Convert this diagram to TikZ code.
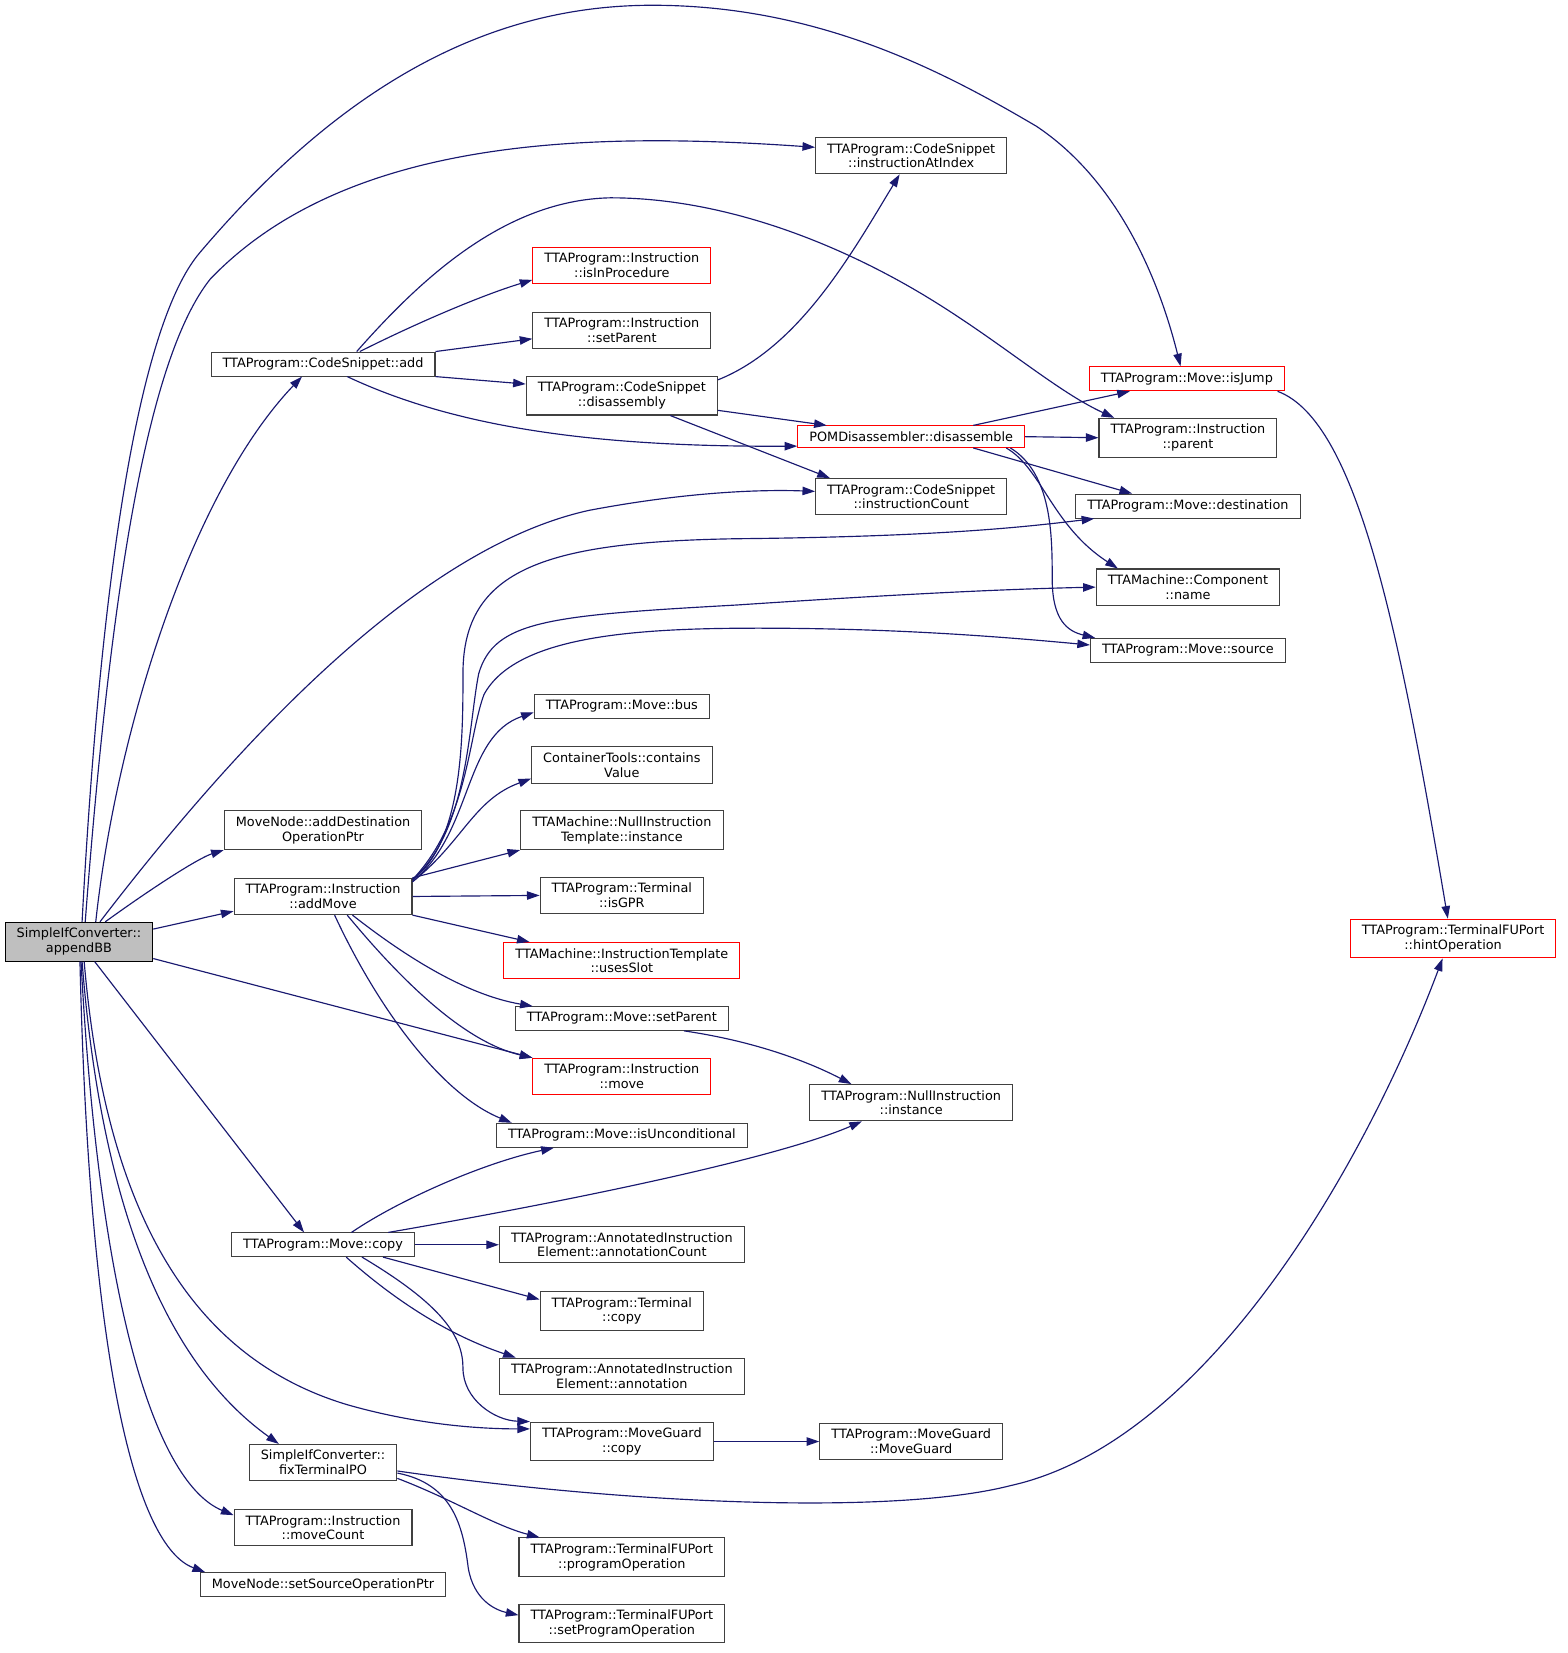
\documentclass[tikz,border=0pt]{standalone}
\usepackage{fontspec}
\setmainfont{DejaVu Sans}
\usetikzlibrary{arrows.meta}
\definecolor{calledge}{HTML}{191970}
\definecolor{boxline}{HTML}{404040}
\definecolor{curfill}{HTML}{BFBFBF}
\tikzset{
  fnbox/.style={draw=boxline, line width=1pt, fill=white, align=center, inner xsep=11pt, inner ysep=5.5pt, font=\fontsize{12.2}{14}\selectfont},
  fnred/.style={fnbox, draw=red},
  fncur/.style={fnbox, fill=curfill, draw=black},
  calls/.style={draw=calledge, line width=1.1pt, -{Triangle[length=12pt,width=8pt]}}
}

\begin{document}
\begin{tikzpicture}[x=1pt,y=-1pt]
	\newcommand\colB{307}
	\newcommand\colC{591}
	\newcommand\colD{866}
	\newcommand\colE{1129}
	\newcommand\colF{1381}

	\useasboundingbox (0,0) rectangle (1490,1571);

	\node[fncur] (ab) at (75,895) {SimpleIfConverter::\\appendBB};

	\node[fnbox] (add) at (\colB,346) {TTAProgram::CodeSnippet::add};
	\node[fnbox] (ado) at (\colB,789) {MoveNode::addDestination\\OperationPtr};
	\node[fnbox] (am) at (\colB,852) {TTAProgram::Instruction\\::addMove};
	\node[fnbox] (mc) at (\colB,1183) {TTAProgram::Move::copy};
	\node[fnbox] (ft) at (\colB,1390) {SimpleIfConverter::\\fixTerminalPO};
	\node[fnbox] (mvc) at (\colB,1452) {TTAProgram::Instruction\\::moveCount};
	\node[fnbox] (sso) at (\colB,1506) {MoveNode::setSourceOperationPtr};

	\node[fnred] (iip) at (\colC,252) {TTAProgram::Instruction\\::isInProcedure};
	\node[fnbox] (spi) at (\colC,314) {TTAProgram::Instruction\\::setParent};
	\node[fnbox] (dsy) at (\colC,376) {TTAProgram::CodeSnippet\\::disassembly};
	\node[fnbox] (bus) at (\colC,671) {TTAProgram::Move::bus};
	\node[fnbox] (cv) at (\colC,727) {ContainerTools::contains\\Value};
	\node[fnbox] (nit) at (\colC,789) {TTAMachine::NullInstruction\\Template::instance};
	\node[fnbox] (gpr) at (\colC,851) {TTAProgram::Terminal\\::isGPR};
	\node[fnred] (us) at (\colC,913) {TTAMachine::InstructionTemplate\\::usesSlot};
	\node[fnbox] (msp) at (\colC,968) {TTAProgram::Move::setParent};
	\node[fnred] (im) at (\colC,1023) {TTAProgram::Instruction\\::move};
	\node[fnbox] (iu) at (\colC,1079) {TTAProgram::Move::isUnconditional};
	\node[fnbox] (ac) at (\colC,1183) {TTAProgram::AnnotatedInstruction\\Element::annotationCount};
	\node[fnbox] (tc) at (\colC,1246) {TTAProgram::Terminal\\::copy};
	\node[fnbox] (an) at (\colC,1308) {TTAProgram::AnnotatedInstruction\\Element::annotation};
	\node[fnbox] (mgc) at (\colC,1370) {TTAProgram::MoveGuard\\::copy};
	\node[fnbox] (po) at (\colC,1480) {TTAProgram::TerminalFUPort\\::programOperation};
	\node[fnbox] (spo) at (\colC,1543) {TTAProgram::TerminalFUPort\\::setProgramOperation};

	\node[fnbox] (iai) at (\colD,148) {TTAProgram::CodeSnippet\\::instructionAtIndex};
	\node[fnred] (dis) at (\colD,415) {POMDisassembler::disassemble};
	\node[fnbox] (ic) at (\colD,472) {TTAProgram::CodeSnippet\\::instructionCount};
	\node[fnbox] (nis) at (\colD,1048) {TTAProgram::NullInstruction\\::instance};
	\node[fnbox] (mgm) at (\colD,1370) {TTAProgram::MoveGuard\\::MoveGuard};

	\node[fnred] (ij) at (1128,360) {TTAProgram::Move::isJump};
	\node[fnbox] (par) at (\colE,416) {TTAProgram::Instruction\\::parent};
	\node[fnbox] (dst) at (\colE,481) {TTAProgram::Move::destination};
	\node[fnbox] (cn) at (\colE,558) {TTAMachine::Component\\::name};
	\node[fnbox] (src) at (\colE,618) {TTAProgram::Move::source};
	\node[fnred] (ho) at (\colF,892) {TTAProgram::TerminalFUPort\\::hintOperation};

	% appendBB
	\draw[calls] ([xshift=3pt]ab.north) .. controls (95,560) and (130,310) .. (190,240) .. controls (330,75) and (470,5) .. (620,5) .. controls (780,5) and (900,70) .. (985,120) .. controls (1060,170) and (1100,260) .. ([xshift=-6pt]ij.north);
	\draw[calls] ([xshift=6pt]ab.north) .. controls (105,560) and (140,340) .. (200,265) .. controls (330,130) and (560,125) .. ([yshift=8pt]iai.west);
	\draw[calls] ([xshift=16pt]ab.north) .. controls (110,700) and (180,470) .. ([xshift=-20pt]add.south);
	\draw[calls] ([xshift=20pt]ab.north) .. controls (230,700) and (400,520) .. (560,485) .. controls (650,468) and (720,465) .. ([yshift=5pt]ic.west);
	\draw[calls] ([xshift=25pt]ab.north) .. controls (150,840) and (190,815) .. (ado.south west);
	\draw[calls] ([yshift=12pt]ab.east) -- ([yshift=-14pt]am.west);
	\draw[calls] ([yshift=-16pt]ab.east) -- (im.north west);
	\draw[calls] ([xshift=15pt]ab.south) -- ([xshift=-18pt]mc.north);
	\draw[calls] ([xshift=5pt]ab.south) .. controls (100,1150) and (180,1290) .. (330,1335) .. controls (400,1355) and (460,1358) .. ([yshift=12pt]mgc.west);
	\draw[calls] ([xshift=3pt]ab.south) .. controls (95,1130) and (150,1290) .. ([xshift=-42pt]ft.north);
	\draw[calls] ([xshift=2pt]ab.south) .. controls (95,1250) and (150,1410) .. ([yshift=12pt]mvc.west);
	\draw[calls] ([xshift=1pt]ab.south) .. controls (85,1300) and (130,1470) .. ([xshift=5pt]sso.north west);

	% CodeSnippet::add
	\draw[calls] ([xshift=32pt]add.north) .. controls (400,265) and (480,190) .. (580,188) .. controls (680,188) and (780,225) .. (860,270) .. controls (940,315) and (1000,370) .. ([xshift=15pt]par.north west);
	\draw[calls] ([xshift=35pt]add.north) .. controls (400,305) and (460,280) .. ([yshift=-14pt]iip.west);
	\draw[calls] (add.north east) -- ([yshift=-8pt]spi.west);
	\draw[calls] (add.south east) -- ([yshift=11pt]dsy.west);
	\draw[calls] ([xshift=23pt]add.south) .. controls (430,405) and (560,425) .. ([yshift=-9pt]dis.west);

	% disassembly, disassemble, isJump
	\draw[calls] ([yshift=15pt]dsy.east) .. controls (760,330) and (810,240) .. ([xshift=-11pt]iai.south);
	\draw[calls] ([yshift=-14pt]dsy.east) -- ([xshift=28pt]dis.north west);
	\draw[calls] ([xshift=46pt]dsy.south) -- ([xshift=14pt]ic.north west);
	\draw[calls] ([xshift=59pt]dis.north) -- ([xshift=39pt]ij.south west);
	\draw[calls] (dis.east) -- (par.west);
	\draw[calls] ([xshift=59pt]dis.south) -- ([xshift=54pt]dst.north west);
	\draw[calls] ([xshift=-18pt]dis.south east) .. controls (990,445) and (1000,500) .. ([xshift=21pt]cn.north west);
	\draw[calls] ([xshift=-14pt]dis.south east) .. controls (1000,450) and (1000,510) .. (1000,550) .. controls (1000,590) and (1015,600) .. ([xshift=5pt]src.north west);
	\draw[calls] ([xshift=-7pt]ij.south east) .. controls (1290,400) and (1330,600) .. ([xshift=-5pt]ho.north);

	% addMove
	\draw[calls] ([yshift=16pt]am.east) .. controls (440,800) and (440,700) .. (440,640) .. controls (440,540) and (520,515) .. (700,512) .. controls (900,510) and (980,500) .. ([xshift=18pt]dst.south west);
	\draw[calls] ([yshift=16pt]am.east) .. controls (445,790) and (445,690) .. (455,640) .. controls (470,590) and (520,585) .. (700,575) .. controls (850,565) and (950,560) .. (cn.west);
	\draw[calls] ([yshift=16pt]am.east) .. controls (445,780) and (445,700) .. (460,660) .. controls (490,605) and (600,597) .. (720,597) .. controls (850,597) and (950,605) .. ([yshift=5pt]src.west);
	\draw[calls] ([yshift=14pt]am.east) .. controls (450,790) and (440,700) .. ([yshift=-6pt]bus.west);
	\draw[calls] ([yshift=14pt]am.east) .. controls (440,800) and (450,760) .. ([yshift=-13pt]cv.west);
	\draw[calls] (am.north east) -- (nit.south west);
	\draw[calls] (am.east) -- (gpr.west);
	\draw[calls] (am.south east) -- ([xshift=25pt]us.north west);
	\draw[calls] ([xshift=28pt]am.south) .. controls (380,905) and (440,945) .. ([xshift=17pt]msp.north west);
	\draw[calls] ([xshift=23pt]am.south) .. controls (380,930) and (440,990) .. (im.north west);
	\draw[calls] ([xshift=11pt]am.south) .. controls (360,960) and (420,1040) .. ([xshift=15pt]iu.north west);
	\draw[calls] ([xshift=59pt]msp.south) .. controls (720,990) and (770,1010) .. ([xshift=40pt]nis.north west);

	% Move::copy
	\draw[calls] ([xshift=27pt]mc.north) .. controls (380,1140) and (460,1105) .. ([xshift=55pt]iu.south west);
	\draw[calls] ([xshift=62pt]mc.north) .. controls (550,1140) and (740,1100) .. ([xshift=50pt]nis.south west);
	\draw[calls] (mc.east) -- (ac.west);
	\draw[calls] ([xshift=57pt]mc.south) -- ([yshift=11pt]tc.west);
	\draw[calls] ([xshift=22pt]mc.south) .. controls (380,1240) and (430,1270) .. ([xshift=16pt]an.north west);
	\draw[calls] ([xshift=37pt]mc.south) .. controls (420,1240) and (440,1270) .. (440,1300) .. controls (440,1330) and (470,1350) .. (mgc.north west);
	\draw[calls] (mgc.east) -- (mgm.west);

	% fixTerminalPO
	\draw[calls] ([yshift=-8pt]ft.east) .. controls (600,1430) and (850,1440) .. (960,1412) .. controls (1150,1370) and (1300,1100) .. ([xshift=-10pt]ho.south);
	\draw[calls] ([yshift=-15pt]ft.east) .. controls (430,1425) and (470,1450) .. ([xshift=20pt]po.north west);
	\draw[calls] ([yshift=-10pt]ft.east) .. controls (430,1410) and (440,1450) .. (445,1490) .. controls (450,1520) and (470,1530) .. ([yshift=8pt]spo.west);
\end{tikzpicture}
\end{document}
